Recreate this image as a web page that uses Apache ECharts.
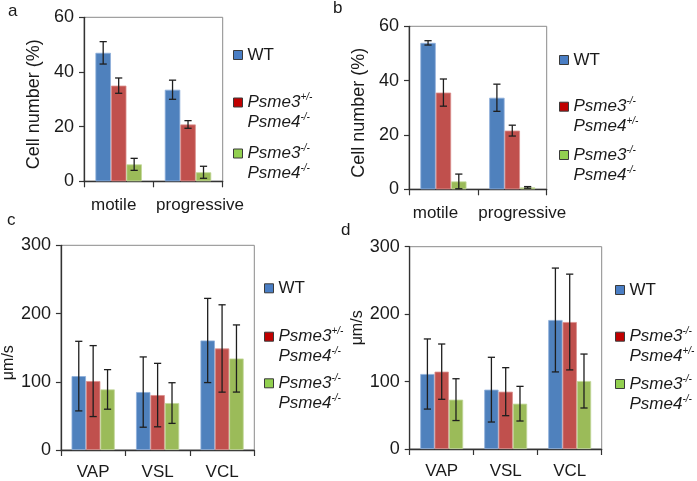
<!DOCTYPE html>
<html>
<head>
<meta charset="utf-8">
<script src="https://cdn.jsdelivr.net/npm/echarts@6/dist/echarts.min.js"></script>
<style>html,body{margin:0;padding:0;background:#fff;}#main{width:697px;height:481px;}</style>
</head>
<body>
<div id="main"></div>
<script>
// ---- data ----
const categoriesAB = ['motile', 'progressive'];
const categoriesCD = ['VAP', 'VSL', 'VCL'];
const seriesNamesAC = ['WT', 'Psme3+/- Psme4-/-', 'Psme3-/- Psme4-/-'];
const seriesNamesBD = ['WT', 'Psme3-/- Psme4+/-', 'Psme3-/- Psme4-/-'];
const ticksAB = [0, 20, 40, 60];
const ticksCD = [0, 100, 200, 300];

// panel a
const aWT = [47.0, 33.5];      const aWTErr = [4.1, 3.5];
const aHet = [35.0, 20.8];     const aHetErr = [2.8, 1.4];
const aKO = [6.2, 3.3];        const aKOErr = [2.2, 2.2];
// panel b
const bWT = [53.9, 33.7];      const bWTErr = [0.8, 5.0];
const bHet = [35.6, 21.6];     const bHetErr = [5.0, 2.0];
const bKO = [2.9, 0.7];        const bKOErr = [2.7, 0.3];
// panel c
const cWT = [108.3, 84.9, 160.5];  const cWTErr = [51, 51.5, 61.7];
const cHet = [101.0, 80.5, 148.8]; const cHetErr = [52, 46.5, 64];
const cKO = [88.8, 68.8, 134.1];   const cKOErr = [29, 29.8, 49.2];
// panel d
const dWT = [111.2, 88.0, 191.3];  const dWTErr = [52, 48, 77];
const dHet = [114.7, 85.0, 188.3]; const dHetErr = [41, 35.6, 71];
const dKO = [73.2, 67.2, 100.8];   const dKOErr = [31, 25.7, 40];

// ---- styling ----
const FONT = "'Liberation Sans', Arial, sans-serif";
const barColors = ['#4F81BD', '#C0504D', '#9BBB59'];
const barBorders = ['#8EAEDB', '#DB8F8D', '#C3D89A'];
const legendColors = ['#4A7EC4', '#C00000', '#92D050'];
const GAP = 0.33;

const panels = [
  {cats: categoriesAB, names: seriesNamesAC, vals: [aWT, aHet, aKO], errs: [aWTErr, aHetErr, aKOErr],
   grid: {left: 84, top: 17.3, width: 138.7, height: 164}, max: 60, ticks: ticksAB,
   yName: 'Cell number (%)', yNameSize: 18, nameGap: 41, namePad: [0, 10, 0, 0], labelMargin: 16,
   labelPads: [[0, 10, 0, 0], [0, 0, 0, 24]],
   legend: {left: 233, cy: [55, 102.5, 153.5]}},
  {cats: categoriesAB, names: seriesNamesBD, vals: [bWT, bHet, bKO], errs: [bWTErr, bHetErr, bKOErr],
   grid: {left: 409, top: 26.3, width: 137.7, height: 163}, max: 60, ticks: ticksAB,
   yName: 'Cell number (%)', yNameSize: 18, nameGap: 41, namePad: [0, 10, 0, 0], labelMargin: 16,
   labelPads: [[0, 16, 0, 0], [0, 0, 0, 20]],
   legend: {left: 559, cy: [60, 106.7, 155]}},
  {cats: categoriesCD, names: seriesNamesAC, vals: [cWT, cHet, cKO], errs: [cWTErr, cHetErr, cKOErr],
   grid: {left: 59, top: 245.3, width: 195.3, height: 205}, max: 300, ticks: ticksCD,
   yName: 'μm/s', yNameSize: 16, nameGap: 42, namePad: [0, 30, 0, 0], labelMargin: 14,
   labelPads: [[0, 0, 0, 0], [0, 0, 0, 0], [0, 0, 0, 0]],
   legend: {left: 264, cy: [288.3, 336.7, 383.3]}},
  {cats: categoriesCD, names: seriesNamesBD, vals: [dWT, dHet, dKO], errs: [dWTErr, dHetErr, dKOErr],
   grid: {left: 409.7, top: 246.7, width: 192, height: 202.3}, max: 300, ticks: ticksCD,
   yName: 'μm/s', yNameSize: 16, nameGap: 44, namePad: [0, 0, 0, 40], labelMargin: 14,
   labelPads: [[0, 0, 0, 0], [0, 0, 0, 0], [0, 0, 0, 0]],
   legend: {left: 615, cy: [290, 336.7, 384]}}
];

function legendText(name) {
  const parts = name.split(' ');
  if (parts.length === 1) return name;
  const lines = parts.map(p => {
    const m = p.match(/^(Psme\d)(.*)$/);
    return '{i|' + m[1] + '}{s|' + m[2] + '}';
  });
  return '\u00a0\n' + lines.join('\n');
}

function errRender(params, api) {
  const cat = api.value(0), val = api.value(1), err = api.value(2), si = api.value(3);
  const band = api.size([1, 0])[0];
  const bw = band * (1 - GAP) / 3;
  const cx = api.coord([cat, val])[0] + (si - 1) * bw;
  const yTop = api.coord([cat, val + err])[1];
  const yBot = api.coord([cat, Math.max(val - err, 0)])[1];
  const cap = 3.6;
  const st = {stroke: '#1e1e1e', lineWidth: 1.3};
  return {type: 'group', children: [
    {type: 'line', shape: {x1: cx, y1: yTop, x2: cx, y2: yBot}, style: st},
    {type: 'line', shape: {x1: cx - cap, y1: yTop, x2: cx + cap, y2: yTop}, style: st},
    {type: 'line', shape: {x1: cx - cap, y1: yBot, x2: cx + cap, y2: yBot}, style: st}
  ]};
}

const grids = [], xAxes = [], yAxes = [], series = [], legends = [];
panels.forEach((p, pi) => {
  grids.push(Object.assign({show: true, borderColor: '#8a8a8a', borderWidth: 1, backgroundColor: 'transparent'}, p.grid));
  const rich = {};
  p.labelPads.forEach((pad, k) => { rich['c' + k] = {padding: pad, fontSize: 17, fontFamily: FONT, color: '#1a1a1a'}; });
  xAxes.push({type: 'category', gridIndex: pi, data: p.cats,
    axisLine: {lineStyle: {color: '#333', width: 1.3}},
    axisTick: {show: true, length: 6, lineStyle: {color: '#333', width: 1.2}},
    axisLabel: {color: '#1a1a1a', fontSize: 17, fontFamily: FONT, margin: p.labelMargin, interval: 0, hideOverlap: false,
      formatter: (v, idx) => '{c' + idx + '|' + v + '}', rich: rich}});
  yAxes.push({type: 'value', gridIndex: pi, min: 0, max: p.max, interval: p.ticks[1] - p.ticks[0],
    name: p.yName, nameLocation: 'middle', nameRotate: 90, nameGap: p.nameGap,
    nameTextStyle: {color: '#1a1a1a', fontSize: p.yNameSize, fontFamily: FONT, padding: p.namePad},
    axisLine: {show: true, lineStyle: {color: '#333', width: 1.3}},
    axisTick: {show: true, length: 5, lineStyle: {color: '#333', width: 1.2}},
    splitLine: {show: false},
    axisLabel: {color: '#1a1a1a', fontSize: 18, fontFamily: FONT, margin: 10}});
  p.names.forEach((nm, si) => {
    series.push({type: 'bar', name: nm, xAxisIndex: pi, yAxisIndex: pi, data: p.vals[si],
      barGap: '0%', barCategoryGap: (GAP * 100) + '%',
      itemStyle: {color: barColors[si], borderColor: barBorders[si], borderWidth: 0.8},
      emphasis: {disabled: true}, silent: true});
  });
  const errData = [];
  p.names.forEach((nm, si) => {
    p.vals[si].forEach((v, ci) => errData.push([ci, v, p.errs[si][ci], si]));
  });
  series.push({type: 'custom', name: 'err' + pi, xAxisIndex: pi, yAxisIndex: pi, z: 5,
    renderItem: errRender, encode: {x: 0, y: 1}, data: errData, silent: true});
  p.names.forEach((nm, si) => {
    const multi = nm.indexOf(' ') >= 0;
    legends.push({data: [{name: nm, itemStyle: {color: legendColors[si], borderColor: '#3a3a3a', borderWidth: 1}}],
      left: p.legend.left, top: p.legend.cy[si] - (multi ? 30 : 10),
      orient: 'vertical', padding: 0, itemWidth: 9, itemHeight: 9, icon: 'rect', selectedMode: false,
      formatter: legendText,
      textStyle: {color: '#1a1a1a', fontSize: 17, fontFamily: FONT, lineHeight: 20,
        fontStyle: multi ? 'italic' : 'normal',
        rich: {
          i: {fontSize: 17, fontStyle: 'italic', fontFamily: FONT, lineHeight: 20, color: '#1a1a1a'},
          s: {fontSize: 10, fontStyle: 'italic', fontFamily: FONT, lineHeight: 20, verticalAlign: 'top', color: '#1a1a1a'}
        }}});
  });
});

const titles = [
  {text: 'a', left: 8, top: 3},
  {text: 'b', left: 333, top: 0},
  {text: 'c', left: 7, top: 212},
  {text: 'd', left: 341, top: 222}
].map(t => Object.assign(t, {padding: 0, textStyle: {fontSize: 17, fontWeight: 'normal', color: '#1a1a1a', fontFamily: FONT}}));

const chart = echarts.init(document.getElementById('main'), null, {renderer: 'canvas'});
chart.setOption({
  animation: false,
  backgroundColor: '#fff',
  title: titles,
  legend: legends,
  grid: grids,
  xAxis: xAxes,
  yAxis: yAxes,
  series: series
});
</script>
</body>
</html>
